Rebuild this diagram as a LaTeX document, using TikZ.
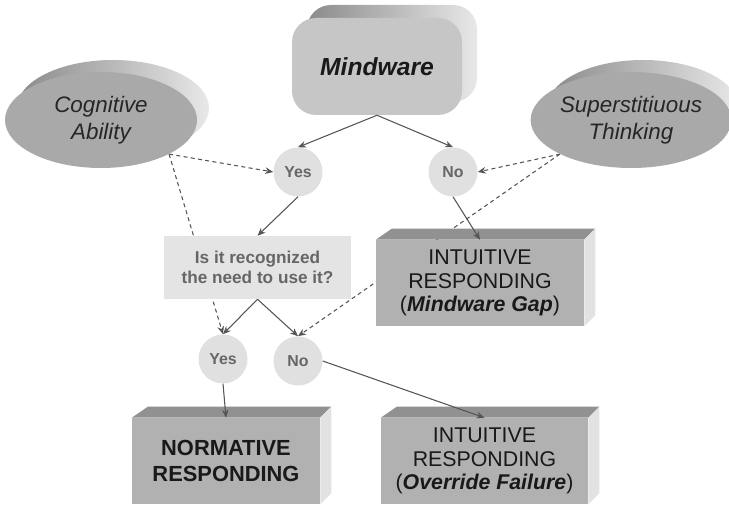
\documentclass[tikz,border=0pt]{standalone}
\usepackage{fontspec}
\setmainfont{Liberation Sans}
\usetikzlibrary{shapes.geometric,arrows.meta}
\pgfdeclarelayer{background}
\pgfsetlayers{background,main}
\definecolor{ovalgray}{HTML}{A9A9A9}
\definecolor{rimdark}{HTML}{8A8A8A}
\definecolor{rimlight}{HTML}{E8E8E8}
\definecolor{mwgray}{HTML}{C6C6C6}
\definecolor{answergray}{HTML}{E0E0E0}
\definecolor{answertext}{HTML}{666666}
\definecolor{askgray}{HTML}{E4E4E4}
\definecolor{blockgray}{HTML}{B1B1B1}
\definecolor{topgray}{HTML}{919191}
\definecolor{sidegray}{HTML}{E2E2E2}
\definecolor{linegray}{HTML}{555555}
\begin{document}
\begin{tikzpicture}[
        x=0.75pt, y=-0.75pt,
        oval_back/.style={ellipse, minimum width=144pt, minimum height=72pt, inner sep=0pt, left color=rimdark, right color=rimlight},
        oval_node/.style={ellipse, minimum width=144pt, minimum height=72pt, inner sep=0pt, fill=ovalgray, align=center, text=black!85, font=\fontsize{16.8}{20.25}\selectfont\itshape},
        mw_back/.style={rectangle, rounded corners=18pt, minimum width=127.5pt, minimum height=72.75pt, left color=rimdark, right color=rimlight},
        mw_node/.style={rectangle, rounded corners=18pt, minimum width=127.5pt, minimum height=72.75pt, fill=mwgray, text=black!90, font=\fontsize{18.5}{21}\selectfont\bfseries\itshape},
        answer_node/.style={circle, fill=answergray, minimum size=36.75pt, inner sep=0pt, text=answertext, font=\fontsize{11.9}{13}\selectfont\bfseries},
        ask_node/.style={rectangle, fill=askgray, minimum width=140.25pt, minimum height=47.25pt, inner sep=0pt, align=center, text=answertext, font=\fontsize{12.9}{15}\selectfont\bfseries},
        block_node/.style={rectangle, fill=blockgray, inner sep=0pt, minimum height=64.5pt, align=center, text=black!90, font=\fontsize{16}{17.5}\selectfont},
        top_face/.style={fill=topgray},
        side_face/.style={fill=sidegray},
        flow/.style={draw=linegray, line width=0.8pt, -{Stealth[length=6pt,width=5pt]}},
        hint/.style={flow, dash pattern=on 3pt off 2.5pt}
    ]
        \useasboundingbox (0,0) rectangle (729,505);
        % Ovals
        \node[oval_back] at (113,108) {};
        \node[oval_node] (cog) at (101,120) {Cognitive\\Ability};
        \node[oval_back] at (643,108) {};
        \node[oval_node] (sup) at (631,120) {Superstitiuous\\Thinking};
        % Mindware
        \node[mw_back] at (392,53.5) {};
        \node[mw_node] (mindware) at (377,66.5) {Mindware};
        % Answers
        \node[answer_node] (yes1) at (298,172) {Yes};
        \node[answer_node] (no1) at (453,172) {No};
        \node[answer_node] (yes2) at (223,359) {Yes};
        \node[answer_node] (no2) at (298,361) {No};
        \node[ask_node] (ask) at (257.5,267.5) {Is it recognized\\the need to use it?};
        % Outcomes
        \node[block_node, minimum width=156pt] (gap) at (480,283) {INTUITIVE\\RESPONDING\\(\textbf{\textit{Mindware Gap}})};
        \node[block_node, minimum width=141pt, font=\fontsize{16.4}{19}\selectfont\bfseries] (norm) at (226,461) {NORMATIVE\\RESPONDING};
        \node[block_node, minimum width=155.25pt] (over) at (484.5,461) {INTUITIVE\\RESPONDING\\(\textbf{\textit{Override Failure}})};
        \foreach \b in {gap,norm,over} {
            \fill[top_face] (\b.north west) -- ++(16,-11) -- ([shift={(11,-11)}]\b.north east) -- (\b.north east) -- cycle;
            \fill[side_face] (\b.north east) -- ++(11,-11) -- ([shift={(11,-11)}]\b.south east) -- (\b.south east) -- cycle;
        }
        % Connectors
        \draw[flow] (mindware.south) -- (yes1.north);
        \draw[flow] (mindware.south) -- (no1.north);
        \draw[flow] (yes1.south) -- (ask.north);
        \draw[flow] (no1.south) -- (gap.north);
        \draw[flow] (ask.south) -- (yes2.north);
        \draw[flow] (ask.south) -- (no2.north);
        \draw[flow] (yes2.south) -- (norm.north);
        \draw[flow] (no2.east) -- (over.north);
        \begin{pgfonlayer}{background}
            \draw[hint] (cog.south east) -- (yes1.west);
            \draw[hint] (cog.south east) -- (yes2.north);
            \draw[hint] (sup.south west) -- (no1.east);
            \draw[hint] (sup.south west) -- (no2.north);
        \end{pgfonlayer}
    \end{tikzpicture}
\end{document}
